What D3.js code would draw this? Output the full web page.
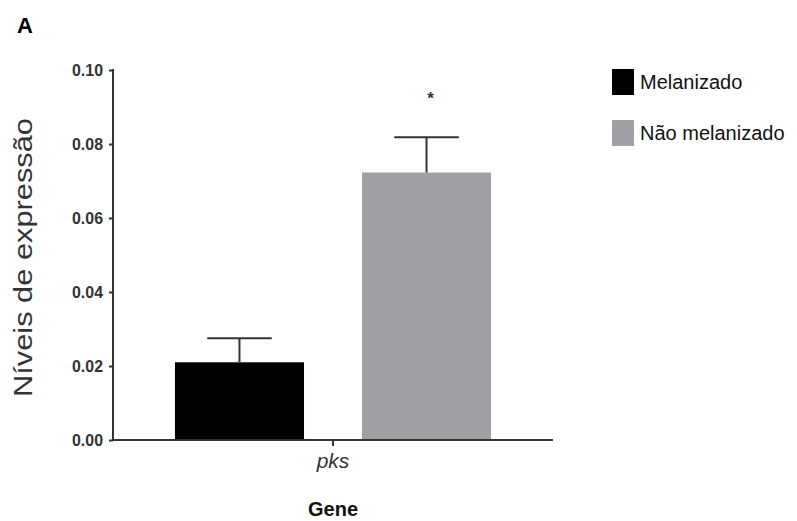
<!DOCTYPE html>
<html><head><meta charset="utf-8">
<script src="https://cdn.jsdelivr.net/npm/d3@7"></script>
<style>body{margin:0;background:#fff;}svg{display:block;}</style>
</head><body>
<script>
const categories = ["pks"];
const seriesNames = ["Melanizado", "Não melanizado"];
const seriesColors = ["#000000", "#a0a0a4"];
const meanValues = [0.021, 0.0723];
const errorValues = [0.0065, 0.0095];
const significance = ["", "*"];
const yTicks = [0, 0.02, 0.04, 0.06, 0.08, 0.10];

const W = 797, H = 521;
const svg = d3.select("body").append("svg").attr("width", W).attr("height", H);

const y = d3.scaleLinear().domain([0, 0.1]).range([440, 70]);
const x0 = d3.scaleBand().domain(categories).range([113, 553]).paddingInner(0).paddingOuter(0.196);
const x1 = d3.scaleBand().domain(seriesNames).range([0, x0.bandwidth()]).paddingInner(0.31);
const color = d3.scaleOrdinal().domain(seriesNames).range(seriesColors);

// bars
const data = seriesNames.map((s, i) => ({cat: categories[0], s, v: meanValues[i], e: errorValues[i], sig: significance[i]}));
const g = svg.append("g");
g.selectAll("rect.bar").data(data).enter().append("rect")
  .attr("x", d => x0(d.cat) + x1(d.s))
  .attr("y", d => y(d.v))
  .attr("width", x1.bandwidth())
  .attr("height", d => y(0) - y(d.v))
  .attr("fill", d => color(d.s));

// error bars
const capW = x1.bandwidth() * 0.5;
data.forEach(d => {
  const cx = x0(d.cat) + x1(d.s) + x1.bandwidth() / 2;
  g.append("line").attr("x1", cx).attr("x2", cx).attr("y1", y(d.v)).attr("y2", y(d.v + d.e))
    .attr("stroke", "#333").attr("stroke-width", 2);
  g.append("line").attr("x1", cx - capW / 2).attr("x2", cx + capW / 2).attr("y1", y(d.v + d.e)).attr("y2", y(d.v + d.e))
    .attr("stroke", "#333").attr("stroke-width", 2);
  if (d.sig) {
    g.append("text").attr("x", cx + 4).attr("y", 104).attr("text-anchor", "middle")
      .attr("font-family", "Liberation Sans, Arial, sans-serif").attr("font-weight", "bold").attr("font-size", 17).attr("fill", "#333").text(d.sig);
  }
});

// y axis
const yAxis = d3.axisLeft(y).tickValues(yTicks).tickSize(4).tickPadding(6).tickFormat(d3.format(".2f"));
const ya = svg.append("g").attr("transform", "translate(113,0)").call(yAxis);
ya.select(".domain").attr("stroke", "#333").attr("stroke-width", 2).attr("d", "M0,69V441");
ya.selectAll(".tick line").attr("stroke", "#333").attr("stroke-width", 2);
ya.selectAll(".tick text").attr("fill", "#333").attr("x", -10)
  .attr("font-family", "Liberation Sans, Arial, sans-serif")
  .attr("font-weight", "bold").attr("font-size", 17)
  .attr("textLength", 31).attr("lengthAdjust", "spacingAndGlyphs");

// x axis
const xAxis = d3.axisBottom(x0).tickSize(6).tickPadding(6);
const xa = svg.append("g").attr("transform", "translate(0,440)").call(xAxis);
xa.select(".domain").attr("stroke", "#333").attr("stroke-width", 2).attr("d", "M112,0H553");
xa.selectAll(".tick line").attr("stroke", "#333").attr("stroke-width", 2);
xa.selectAll(".tick text").attr("fill", "#333").attr("dy", null).attr("y", 28)
  .attr("font-family", "Liberation Sans, Arial, sans-serif").attr("font-style", "italic").attr("font-size", 21);

// axis titles
svg.append("text").attr("transform", "translate(32,257.5) rotate(-90)").attr("text-anchor", "middle")
  .attr("font-family", "Liberation Sans, Arial, sans-serif").attr("font-size", 25).attr("fill", "#333")
  .attr("textLength", 279).attr("lengthAdjust", "spacingAndGlyphs").text("Níveis de expressão");
svg.append("text").attr("x", 333).attr("y", 516).attr("text-anchor", "middle")
  .attr("font-family", "Liberation Sans, Arial, sans-serif").attr("font-weight", "bold").attr("font-size", 20).attr("fill", "#111")
  .text("Gene");
svg.append("text").attr("x", 17).attr("y", 33)
  .attr("font-family", "Liberation Sans, Arial, sans-serif").attr("font-weight", "bold").attr("font-size", 22).attr("fill", "#000")
  .text("A");

// legend
const leg = svg.append("g");
seriesNames.forEach((s, i) => {
  const ly = 69 + i * 51;
  leg.append("rect").attr("x", 612).attr("y", ly).attr("width", 22).attr("height", 26).attr("fill", color(s));
  leg.append("text").attr("x", 640).attr("y", ly + 20)
    .attr("font-family", "Liberation Sans, Arial, sans-serif").attr("font-size", 20).attr("fill", "#111").text(s);
});
</script>
</body></html>
